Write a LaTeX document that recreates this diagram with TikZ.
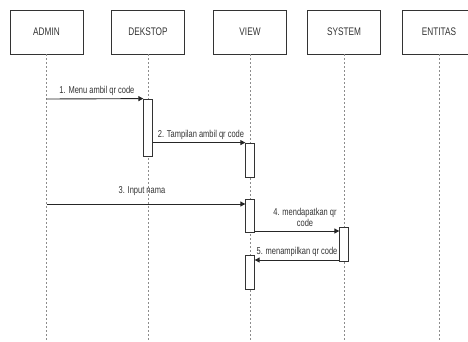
\documentclass[tikz,border=0pt]{standalone}
\usepackage{fontspec}
\setmainfont{Liberation Sans}[FakeStretch=0.75]
\usetikzlibrary{arrows.meta,positioning}

\tikzset{
  head/.style={draw=black!80, line width=0.8pt, fill=white, minimum width=73pt,
    minimum height=44pt, inner sep=0pt, font=\fontsize{11}{12}\selectfont, text=black!80},
  life/.style={draw=black!45, dashed, dash pattern=on 2pt off 2pt, line width=0.8pt},
  act/.style={draw=black!80, line width=0.8pt, fill=white, minimum width=8.5pt, inner sep=0pt},
  msg/.style={draw=black!85, line width=0.9pt, -{Triangle[length=5pt,width=5pt]}},
  lbl/.style={font=\fontsize{10}{11}\selectfont, text=black!80, inner sep=1pt, align=center}
}

\begin{document}
\begin{tikzpicture}[x=1pt, y=-1pt]
  \useasboundingbox (0,0) rectangle (468,341);
  \clip (0,0) rectangle (468,341);

  % participant heads
  \node[head] (admin) at (46.5,32) {ADMIN};
  \node[head] (desk)  at (148,32)  {DEKSTOP};
  \node[head] (view)  at (250,32)  {VIEW};
  \node[head] (sys)   at (344,32)  {SYSTEM};
  \node[head] (ent)   at (439,32)  {ENTITAS};

  % lifeline ends
  \coordinate (adminE) at (46.5,341);
  \coordinate (deskE)  at (148,341);
  \coordinate (viewE)  at (250,341);
  \coordinate (sysE)   at (344,341);
  \coordinate (entE)   at (439,341);

  \draw[life] (admin.south) -- (adminE);
  \draw[life] (desk.south)  -- (deskE);
  \draw[life] (view.south)  -- (viewE);
  \draw[life] (sys.south)   -- (sysE);
  \draw[life] (ent.south)   -- (entE);

  % activation bars
  \node[act, minimum height=57pt] (a1) at (148,127.5) {};
  \node[act, minimum height=34pt] (v1) at (250,160) {};
  \node[act, minimum height=33pt] (v2) at (250,215.5) {};
  \node[act, minimum height=34pt] (s1) at (344,244) {};
  \node[act, minimum height=34pt] (v3) at (250,272) {};

  % message start points on the lifelines
  \coordinate (m1s) at (46.5,99);
  \coordinate (m3s) at (46.5,204);

  % messages
  \draw[msg] (m1s) -- (a1.north west)
    node[lbl, midway, above=2pt, xshift=2pt] {1. Menu ambil qr code};
  \draw[msg] (a1.east |- v1.north) -- (v1.north west)
    node[lbl, midway, above=2pt, xshift=2pt] {2. Tampilan ambil qr code};
  \draw[msg] (m3s) -- (v2.west |- m3s)
    node[lbl, midway, above=7pt, xshift=-4pt] {3. Input nama};
  \draw[msg] (v2.east |- 0,231) -- (s1.west |- 0,231)
    node[lbl, midway, above=3pt, xshift=8pt] {4. mendapatkan qr\\code};
  \draw[msg] (s1.west |- 0,260) -- (v3.east |- 0,260)
    node[lbl, midway, above=2pt, xshift=0pt] {5. menampilkan qr code};
\end{tikzpicture}
\end{document}
